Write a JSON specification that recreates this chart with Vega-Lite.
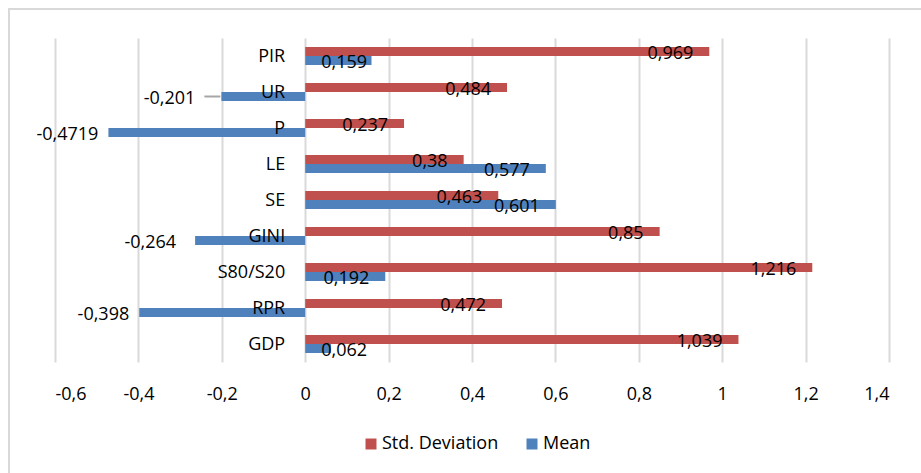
{
  "$schema": "https://vega.github.io/schema/vega-lite/v6.json",
  "width": 912,
  "height": 464,
  "padding": {"left": 9, "top": 9, "right": 0, "bottom": 0},
  "autosize": {"type": "none"},
  "background": "#ffffff",
  "config": {
    "locale": {"number": {"decimal": ",", "thousands": ".", "grouping": [3], "currency": ["", " €"], "minus": "-"}},
    "view": {"stroke": "#d9d9d9", "strokeWidth": 2, "strokeDash": [912, 1376, 464]},
    "font": "Open Sans",
    "text": {"font": "Open Sans", "fontSize": 18, "fill": "#000000"}
  },
  "data": {
    "values": [
      {"cat": "PIR", "series": "Std. Deviation", "value": 0.969},
      {"cat": "PIR", "series": "Mean", "value": 0.159},
      {"cat": "UR", "series": "Std. Deviation", "value": 0.484},
      {"cat": "UR", "series": "Mean", "value": -0.201},
      {"cat": "P", "series": "Std. Deviation", "value": 0.237},
      {"cat": "P", "series": "Mean", "value": -0.4719},
      {"cat": "LE", "series": "Std. Deviation", "value": 0.38},
      {"cat": "LE", "series": "Mean", "value": 0.577},
      {"cat": "SE", "series": "Std. Deviation", "value": 0.463},
      {"cat": "SE", "series": "Mean", "value": 0.601},
      {"cat": "GINI", "series": "Std. Deviation", "value": 0.85},
      {"cat": "GINI", "series": "Mean", "value": -0.264},
      {"cat": "S80/S20", "series": "Std. Deviation", "value": 1.216},
      {"cat": "S80/S20", "series": "Mean", "value": 0.192},
      {"cat": "RPR", "series": "Std. Deviation", "value": 0.472},
      {"cat": "RPR", "series": "Mean", "value": -0.398},
      {"cat": "GDP", "series": "Std. Deviation", "value": 1.039},
      {"cat": "GDP", "series": "Mean", "value": 0.062}
    ]
  },
  "encoding": {
    "y": {
      "field": "cat", "type": "nominal",
      "sort": ["PIR", "UR", "P", "LE", "SE", "GINI", "S80/S20", "RPR", "GDP"],
      "scale": {"range": [29, 353], "paddingInner": 0.5, "paddingOuter": 0.25},
      "axis": null
    }
  },
  "layer": [
    {
      "mark": {"type": "bar"},
      "encoding": {
        "x": {
          "field": "value", "type": "quantitative",
          "scale": {"domain": [-0.6, 1.4], "range": [46, 880], "nice": false, "zero": true},
          "axis": {
            "orient": "top", "offset": -353,
            "values": [-0.6, -0.4, -0.2, 0, 0.2, 0.4, 0.6, 0.8, 1, 1.2, 1.4],
            "format": "~g", "domain": false, "ticks": false,
            "grid": true, "gridColor": "#d9d9d9", "gridWidth": 2,
            "labelFont": "Open Sans", "labelFontSize": 18, "labelColor": "#000000",
            "labelBaseline": "middle", "labelPadding": -32, "title": null
          }
        },
        "yOffset": {"field": "series", "type": "nominal", "scale": {"domain": ["Std. Deviation", "Mean"], "paddingInner": 0, "paddingOuter": 0}},
        "color": {
          "field": "series", "type": "nominal",
          "scale": {"domain": ["Std. Deviation", "Mean"], "range": ["#C0504D", "#4F81BD"]},
          "legend": {
            "orient": "none", "legendX": 353, "legendY": 426, "direction": "horizontal",
            "title": null, "symbolType": "square", "symbolSize": 121, "symbolStrokeWidth": 0,
            "labelFont": "Open Sans", "labelFontSize": 18, "labelColor": "#000000",
            "labelOffset": 2, "columnPadding": 24
          }
        }
      }
    },
    {
      "transform": [{"filter": "datum.value >= 0.19"}],
      "mark": {"type": "text", "align": "right", "baseline": "middle", "dx": -16, "dy": 2},
      "encoding": {
        "x": {"field": "value", "type": "quantitative"},
        "yOffset": {"field": "series", "type": "nominal"},
        "text": {"field": "value", "type": "quantitative", "format": "~g"}
      }
    },
    {
      "transform": [{"filter": "datum.value >= 0 && datum.value < 0.19"}],
      "mark": {"type": "text", "align": "left", "baseline": "middle", "dx": 16, "dy": 2},
      "encoding": {
        "x": {"datum": 0, "type": "quantitative"},
        "yOffset": {"field": "series", "type": "nominal"},
        "text": {"field": "value", "type": "quantitative", "format": "~g"}
      }
    },
    {
      "transform": [{"filter": "datum.value < 0 && datum.value > -0.25"}],
      "mark": {"type": "text", "align": "right", "baseline": "middle", "dx": -26, "dy": 2},
      "encoding": {
        "x": {"field": "value", "type": "quantitative"},
        "yOffset": {"field": "series", "type": "nominal"},
        "text": {"field": "value", "type": "quantitative", "format": "~g"}
      }
    },
    {
      "transform": [{"filter": "datum.value < 0 && datum.value > -0.25"}],
      "mark": {"type": "rule", "color": "#a6a6a6", "strokeWidth": 2, "xOffset": -17, "x2Offset": -1},
      "encoding": {
        "x": {"field": "value", "type": "quantitative"},
        "x2": {"field": "value"},
        "yOffset": {"field": "series", "type": "nominal"}
      }
    },
    {
      "transform": [{"filter": "datum.value <= -0.25 && datum.value > -0.3"}],
      "mark": {"type": "text", "align": "right", "baseline": "middle", "dx": -19, "dy": 2},
      "encoding": {
        "x": {"field": "value", "type": "quantitative"},
        "yOffset": {"field": "series", "type": "nominal"},
        "text": {"field": "value", "type": "quantitative", "format": "~g"}
      }
    },
    {
      "transform": [{"filter": "datum.value <= -0.3"}],
      "mark": {"type": "text", "align": "right", "baseline": "middle", "dx": -10, "dy": 2},
      "encoding": {
        "x": {"field": "value", "type": "quantitative"},
        "yOffset": {"field": "series", "type": "nominal"},
        "text": {"field": "value", "type": "quantitative", "format": "~g"}
      }
    },
    {
      "transform": [{"filter": "datum.series == 'Std. Deviation'"}],
      "mark": {"type": "text", "align": "right", "baseline": "middle", "dx": -20, "dy": 1},
      "encoding": {
        "x": {"datum": 0, "type": "quantitative"},
        "text": {"field": "cat", "type": "nominal"}
      }
    }
  ]
}
